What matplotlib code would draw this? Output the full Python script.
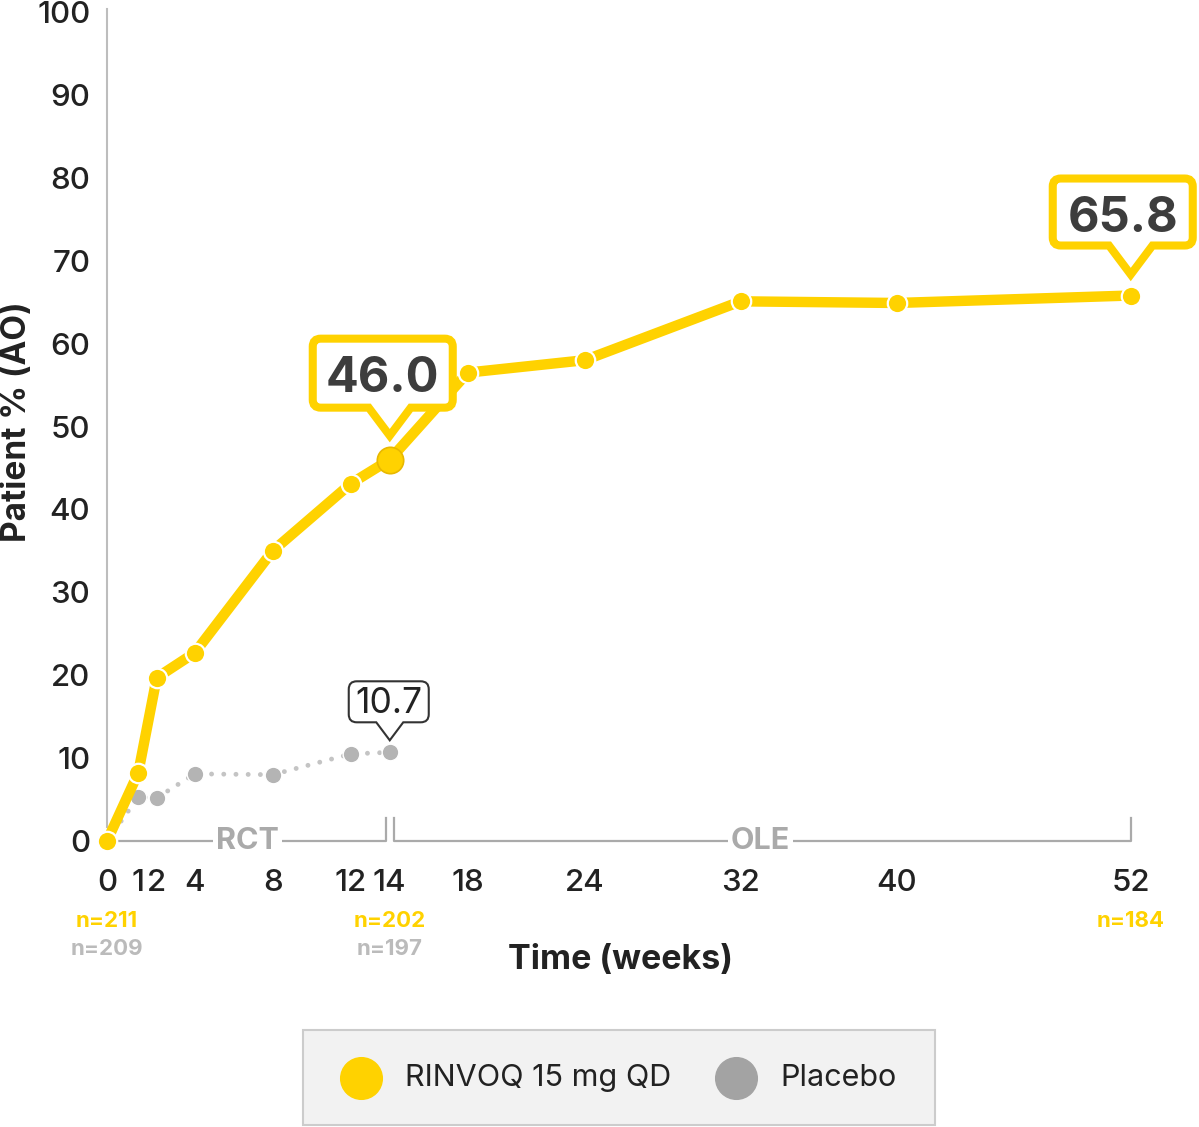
import numpy as np
import matplotlib
matplotlib.use("Agg")
import matplotlib.pyplot as plt
import matplotlib.transforms as mtransforms
from matplotlib.path import Path
from matplotlib.patches import PathPatch, Rectangle
from matplotlib.lines import Line2D

plt.rcParams['font.family'] = ['Inter', 'Roboto', 'DejaVu Sans']

# data
weeks_rinvoq = [0, 1, 2, 4, 8, 12, 14, 18, 24, 32, 40, 52]
pct_rinvoq = [0, 8.2, 19.7, 22.7, 35.0, 43.1, 46.0, 56.5, 58.0, 65.1, 64.9, 65.8]
weeks_placebo = [0, 1, 2, 4, 8, 12, 14]
pct_placebo = [0, 5.3, 5.2, 8.1, 8.0, 10.5, 10.7]

xtick_weeks = [0, 1, 2, 4, 8, 12, 14, 18, 24, 32, 40, 52]
xtick_labels = ['0', '1', '2', '4', '8', '12', '14', '18', '24', '32', '40', '52']
yticks = list(range(0, 101, 10))

n_weeks = [0, 14, 52]
n_rinvoq = ['n=211', 'n=202', 'n=184']
n_placebo = ['n=209', 'n=197', '']

YELLOW = '#FFD200'
GREY = '#b4b4b4'
DARK = '#222222'

fig = plt.figure(figsize=(11.99, 11.27), dpi=100)
ax = fig.add_axes([107 / 1199, 286 / 1127, 1062.75 / 1199, 829 / 1127])

# x axis is slightly stretched at the start (0-4 weeks)
knots = [-5, 0, 1, 2, 4, 60]
pos = [-5, 0, 1.6, 2.55, 4.5, 60.5]
ax.set_xscale('function', functions=(lambda x: np.interp(x, knots, pos),
                                     lambda x: np.interp(x, pos, knots)))
ax.set_xlim(0, 54)
ax.set_ylim(0, 100)

for s in ['top', 'right', 'bottom']:
    ax.spines[s].set_visible(False)
ax.spines['left'].set_color('#bdbdbd')
ax.spines['left'].set_linewidth(1.5)
ax.spines['left'].set_bounds(1.7, 100.4)

ax.set_yticks(yticks)
ax.set_yticklabels([str(v) for v in yticks], fontweight='medium')
ax.set_xticks(xtick_weeks)
ax.set_xticklabels(xtick_labels, fontweight='medium')
ax.xaxis.set_minor_locator(matplotlib.ticker.NullLocator())
ax.tick_params(axis='y', length=0, pad=12, labelsize=22.5, labelcolor=DARK)
ax.tick_params(axis='x', length=0, pad=20, labelsize=22.5, labelcolor=DARK)

# placebo (dotted)
ax.plot(weeks_placebo, pct_placebo, color='#c4c4c4', lw=3.5,
        linestyle=(0, (0.01, 2.5)), dash_capstyle='round', clip_on=False, zorder=3)
ax.plot(weeks_placebo, pct_placebo, 'o', ms=12, color=GREY, mec='white', mew=1,
        clip_on=False, zorder=4)

# rinvoq
ax.plot(weeks_rinvoq, pct_rinvoq, color=YELLOW, lw=7.5, solid_capstyle='round',
        solid_joinstyle='round', clip_on=False, zorder=5)
ax.plot(weeks_rinvoq, pct_rinvoq, 'o', ms=14, color=YELLOW, mec='white', mew=1.6,
        clip_on=False, zorder=6)
ax.plot([weeks_rinvoq[6]], [pct_rinvoq[6]], 'o', ms=19, color=YELLOW, mec='#e8b800',
        mew=1.2, clip_on=False, zorder=7)

# RCT / OLE brackets
br = dict(color='#aaaaaa', lw=1.6, clip_on=False, zorder=2)
ax.plot([0, 13.8, 13.8], [0, 0, 2.8], **br)
ax.plot([14.2, 14.2, 52, 52], [2.8, 0, 0, 2.8], **br)
lbl = dict(fontsize=22, fontweight='bold', color='#aaaaaa', ha='center', va='center',
           bbox=dict(facecolor='white', edgecolor='none', pad=2), zorder=3)
ax.text(6.7, 0, 'RCT', **lbl)
ax.text(33.0, 0, 'OLE', **lbl)

# n labels under the axis
xt = ax.get_xaxis_transform()
for w, a, b in zip(n_weeks, n_rinvoq, n_placebo):
    ax.text(w, -0.0965, a, transform=xt, ha='center', va='center', fontsize=16,
            fontweight='bold', color=YELLOW)
    if b:
        ax.text(w, -0.13, b, transform=xt, ha='center', va='center', fontsize=16,
                fontweight='bold', color='#bbbbbb')


def callout(x, y, text, dx, w, h, tip, bottom, ty, ec, lw, fs, weight, tcolor):
    # speech bubble drawn in pixel units relative to the data point
    px, py = ax.transData.transform((x, y))
    tr = mtransforms.Affine2D().translate(px, py)
    r = 8
    L, R, B, T = dx - w / 2, dx + w / 2, bottom, bottom + h
    tw = (bottom - tip) * 0.75
    verts = [(L + r, B), (-tw, B), (0, tip), (tw, B), (R - r, B), (R, B), (R, B + r),
             (R, T - r), (R, T), (R - r, T), (L + r, T), (L, T), (L, T - r),
             (L, B + r), (L, B), (L + r, B), (L + r, B)]
    codes = [Path.MOVETO, Path.LINETO, Path.LINETO, Path.LINETO, Path.LINETO,
             Path.CURVE3, Path.CURVE3, Path.LINETO, Path.CURVE3, Path.CURVE3,
             Path.LINETO, Path.CURVE3, Path.CURVE3, Path.LINETO, Path.CURVE3,
             Path.CURVE3, Path.CLOSEPOLY]
    p = PathPatch(Path(verts, codes), facecolor='white', edgecolor=ec, lw=lw,
                  joinstyle='miter', transform=tr, clip_on=False, zorder=10)
    ax.add_patch(p)
    ax.text(dx, ty, text, transform=tr, ha='center', va='center', fontsize=fs,
            fontweight=weight, color=tcolor, zorder=11)


callout(weeks_rinvoq[6], pct_rinvoq[6], '46.0', -7, 140, 69, 24, 52, 81,
        YELLOW, 5.8, 35, 'bold', '#3d3d3d')
callout(weeks_rinvoq[-1], pct_rinvoq[-1], '65.8', -8, 140, 67, 21, 50, 77,
        YELLOW, 5.8, 35, 'bold', '#3d3d3d')
callout(weeks_placebo[-1], pct_placebo[-1], '10.7', -1, 80, 41, 12, 30, 49,
        '#333333', 1.5, 25.5, 'normal', DARK)

# axis titles
fig.text(620 / 1199, 1 - 960 / 1127, 'Time (weeks)', ha='center', va='center',
         fontsize=24.5, fontweight='bold', color=DARK)
fig.text(17 / 1199, 1 - 422 / 1127, 'Patient % (AO)', ha='center', va='center',
         rotation=90, fontsize=24, fontweight='bold', color=DARK)

# legend box
fig.patches.append(Rectangle((303 / 1199, 1 - 1125 / 1127), 632 / 1199, 95 / 1127,
                             transform=fig.transFigure, facecolor='#f2f2f2',
                             edgecolor='#cccccc', lw=1.5))
ly = 1 - 1078 / 1127
fig.lines.append(Line2D([361 / 1199], [ly], marker='o', ms=30, color=YELLOW,
                        mec=YELLOW, transform=fig.transFigure))
fig.lines.append(Line2D([736 / 1199], [ly], marker='o', ms=30, color='#a3a3a3',
                        mec='#a3a3a3', transform=fig.transFigure))
fig.text(405 / 1199, ly, 'RINVOQ 15 mg QD', ha='left', va='center', fontsize=22,
         color=DARK)
fig.text(780 / 1199, ly, 'Placebo', ha='left', va='center', fontsize=22, color=DARK)

fig.savefig('out.png', dpi=100)
